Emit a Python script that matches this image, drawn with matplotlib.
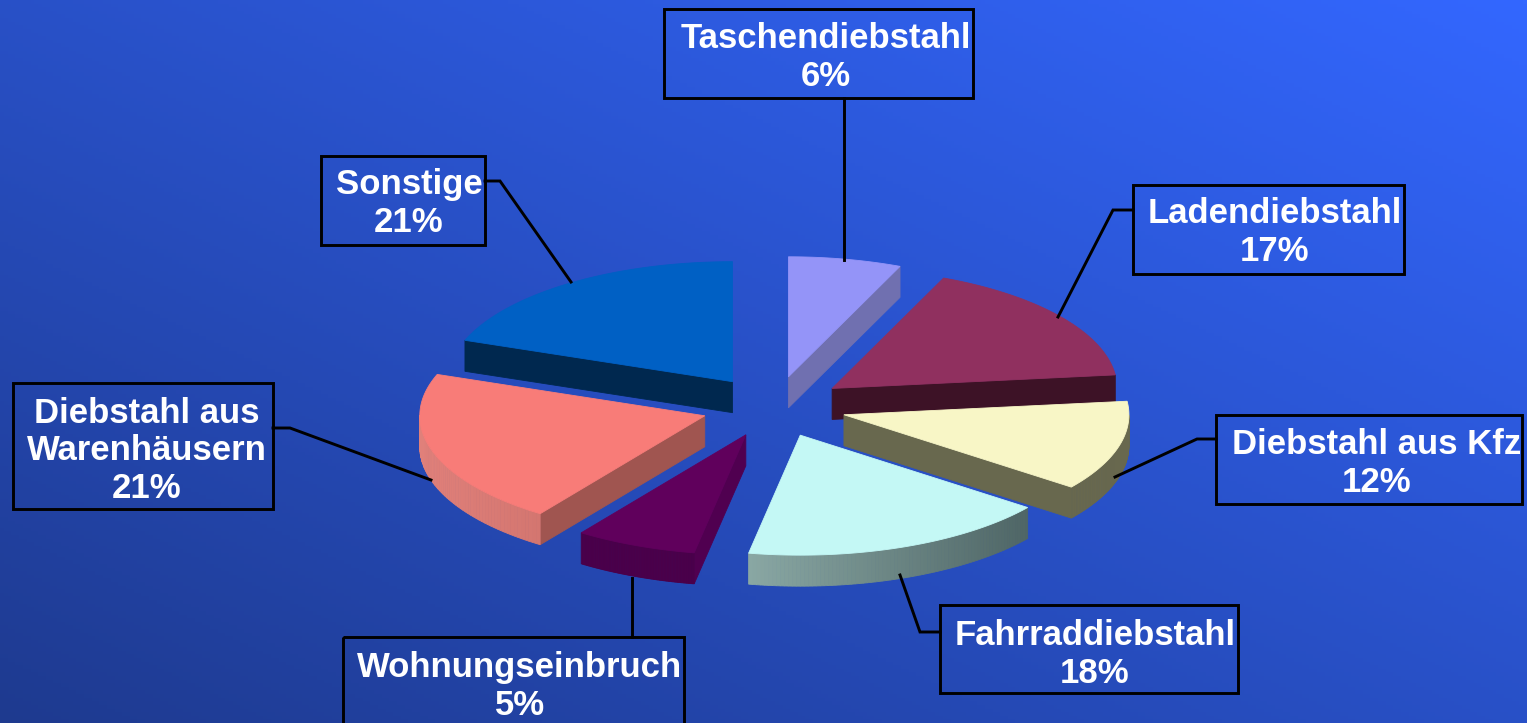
#!/usr/bin/env python3
"""
Exploded 3D style pie chart: shares of theft offences by type.
"""

import numpy as np
import matplotlib
matplotlib.use("Agg")
import matplotlib.pyplot as plt
from matplotlib.colors import to_rgb
from matplotlib.patches import Polygon, Rectangle

WIDTH, HEIGHT = 1527, 723

# Printed labels
CATEGORIES = [
    "Taschendiebstahl",
    "Ladendiebstahl",
    "Diebstahl aus Kfz",
    "Fahrraddiebstahl",
    "Wohnungseinbruch",
    "Diebstahl aus\nWarenhäusern",
    "Sonstige",
]
PERCENT_LABELS = ["6%", "17%", "12%", "18%", "5%", "21%", "21%"]

# Slice sizes as measured from the drawn angles (the tilted picture does not
# quite follow the printed percentages)
SHARES = [6.4, 16.8, 12.1, 17.6, 6.9, 20.8, 19.4]

TOP_COLORS = ["#9494f8", "#90305f", "#f8f6c6", "#c4f8f5", "#60005c", "#f87c78", "#0060c4"]
RADIAL_COLORS = ["#7070b0", "#3d1226", "#68684e", "#5a7272", "#500050", "#a05550", "#00284f"]
# Outer rim colour at the left and right end of the rim
RIM_COLORS = [
    ("#7070b0", "#7070b0"),
    ("#3d1226", "#3d1226"),
    ("#68684e", "#68684e"),
    ("#8aa8a4", "#4f6666"),
    ("#4a004a", "#4a004a"),
    ("#e0807a", "#d47670"),
    ("#00284f", "#00284f"),
]
DRAW_ORDER = [6, 0, 1, 5, 2, 4, 3]

# Pie geometry in pixels
CENTER_X, CENTER_Y = 774, 406.7
RADIUS_X, RADIUS_Y = 285, 120
EXPLODE = 72.5
DEPTH = 31

# Label boxes (left, top, right, bottom), text anchor and leader line
BOXES = [
    (664, 9, 973, 98),
    (1133, 185, 1404, 274),
    (1216, 415, 1522, 504),
    (940, 605, 1238, 693),
    (343, 637, 684, 740),
    (13, 383, 273, 509),
    (321, 156, 485, 245),
]
TEXT_CENTERS = [
    (826, 57.5), (1275, 232.5), (1377, 463.5), (1095, 654.5), (520, 686.5), (147, 451), (409, 203.5),
]
LEADERS = [
    [(844, 98), (844, 260)],
    [(1133, 210), (1113, 210), (1058, 317)],
    [(1216, 439), (1197, 439), (1115, 477)],
    [(940, 632), (920, 632), (900, 575)],
    [(632, 637), (632, 578)],
    [(273, 428), (290, 428), (431, 480)],
    [(485, 181), (500, 181), (571, 282)],
]


def draw_background(ax):
    """Diagonal blue gradient, darkest bottom left."""
    xx, yy = np.meshgrid(np.linspace(0, 1, 400), np.linspace(0, 1, 200))
    t = (xx + (1 - yy)) / 2
    dark = np.array(to_rgb("#1e3a8f"))
    light = np.array(to_rgb("#3367ff"))
    img = dark + t[..., None] * (light - dark)
    ax.imshow(img, extent=(0, WIDTH, HEIGHT, 0), aspect="auto", zorder=0)


def slice_outline(start, end, mid):
    """Apex and rim points of one exploded slice, angles clockwise from top."""
    apex_x = CENTER_X + EXPLODE * np.sin(mid)
    apex_y = CENTER_Y - EXPLODE * (RADIUS_Y / RADIUS_X) * np.cos(mid)
    theta = np.linspace(start, end, 80)
    rim_x = apex_x + RADIUS_X * np.sin(theta)
    rim_y = apex_y - RADIUS_Y * np.cos(theta)
    return (apex_x, apex_y), np.column_stack([rim_x, rim_y])


def draw_side(ax, p, q, color):
    quad = [p, q, (q[0], q[1] + DEPTH), (p[0], p[1] + DEPTH)]
    ax.add_patch(Polygon(quad, closed=True, facecolor=color, edgecolor=color, linewidth=0.6))


def draw_pie(ax):
    fractions = np.array(SHARES) / sum(SHARES)
    edges = np.concatenate([[0], np.cumsum(fractions)]) * 2 * np.pi

    for i in DRAW_ORDER:
        start, end = edges[i], edges[i + 1]
        apex, rim = slice_outline(start, end, (start + end) / 2)

        # Going clockwise a side face shows only where the edge runs to the left
        if rim[0][0] < apex[0]:
            draw_side(ax, apex, rim[0], RADIAL_COLORS[i])

        rim_left = np.array(to_rgb(RIM_COLORS[i][0]))
        rim_right = np.array(to_rgb(RIM_COLORS[i][1]))
        span = max(rim[:, 0].max() - rim[:, 0].min(), 1)
        for p, q in zip(rim[:-1], rim[1:]):
            if q[0] < p[0]:
                t = (p[0] - rim[:, 0].min()) / span
                draw_side(ax, p, q, tuple(rim_left + t * (rim_right - rim_left)))

        if apex[0] < rim[-1][0]:
            draw_side(ax, rim[-1], apex, RADIAL_COLORS[i])

        outline = np.vstack([apex, rim])
        ax.add_patch(Polygon(outline, closed=True, facecolor=TOP_COLORS[i],
                             edgecolor=TOP_COLORS[i], linewidth=0.6))


def draw_labels(ax):
    for i, name in enumerate(CATEGORIES):
        left, top, right, bottom = BOXES[i]
        ax.add_patch(Rectangle((left, top), right - left, bottom - top, fill=False,
                               edgecolor="black", linewidth=2.1, zorder=5))
        xs, ys = zip(*LEADERS[i])
        ax.plot(xs, ys, color="black", linewidth=2.1, zorder=5, solid_joinstyle="miter")
        ax.text(TEXT_CENTERS[i][0], TEXT_CENTERS[i][1], f"{name}\n{PERCENT_LABELS[i]}",
                ha="center", va="center", ma="center", color="white", fontsize=25,
                fontweight="bold", family="Liberation Sans", linespacing=1.17, zorder=6)


def main():
    fig = plt.figure(figsize=(WIDTH / 100, HEIGHT / 100), dpi=100)
    ax = fig.add_axes([0, 0, 1, 1])
    draw_background(ax)
    draw_pie(ax)
    draw_labels(ax)
    ax.set_xlim(0, WIDTH)
    ax.set_ylim(HEIGHT, 0)
    ax.axis("off")
    fig.savefig("out.png", dpi=100)


if __name__ == "__main__":
    main()
